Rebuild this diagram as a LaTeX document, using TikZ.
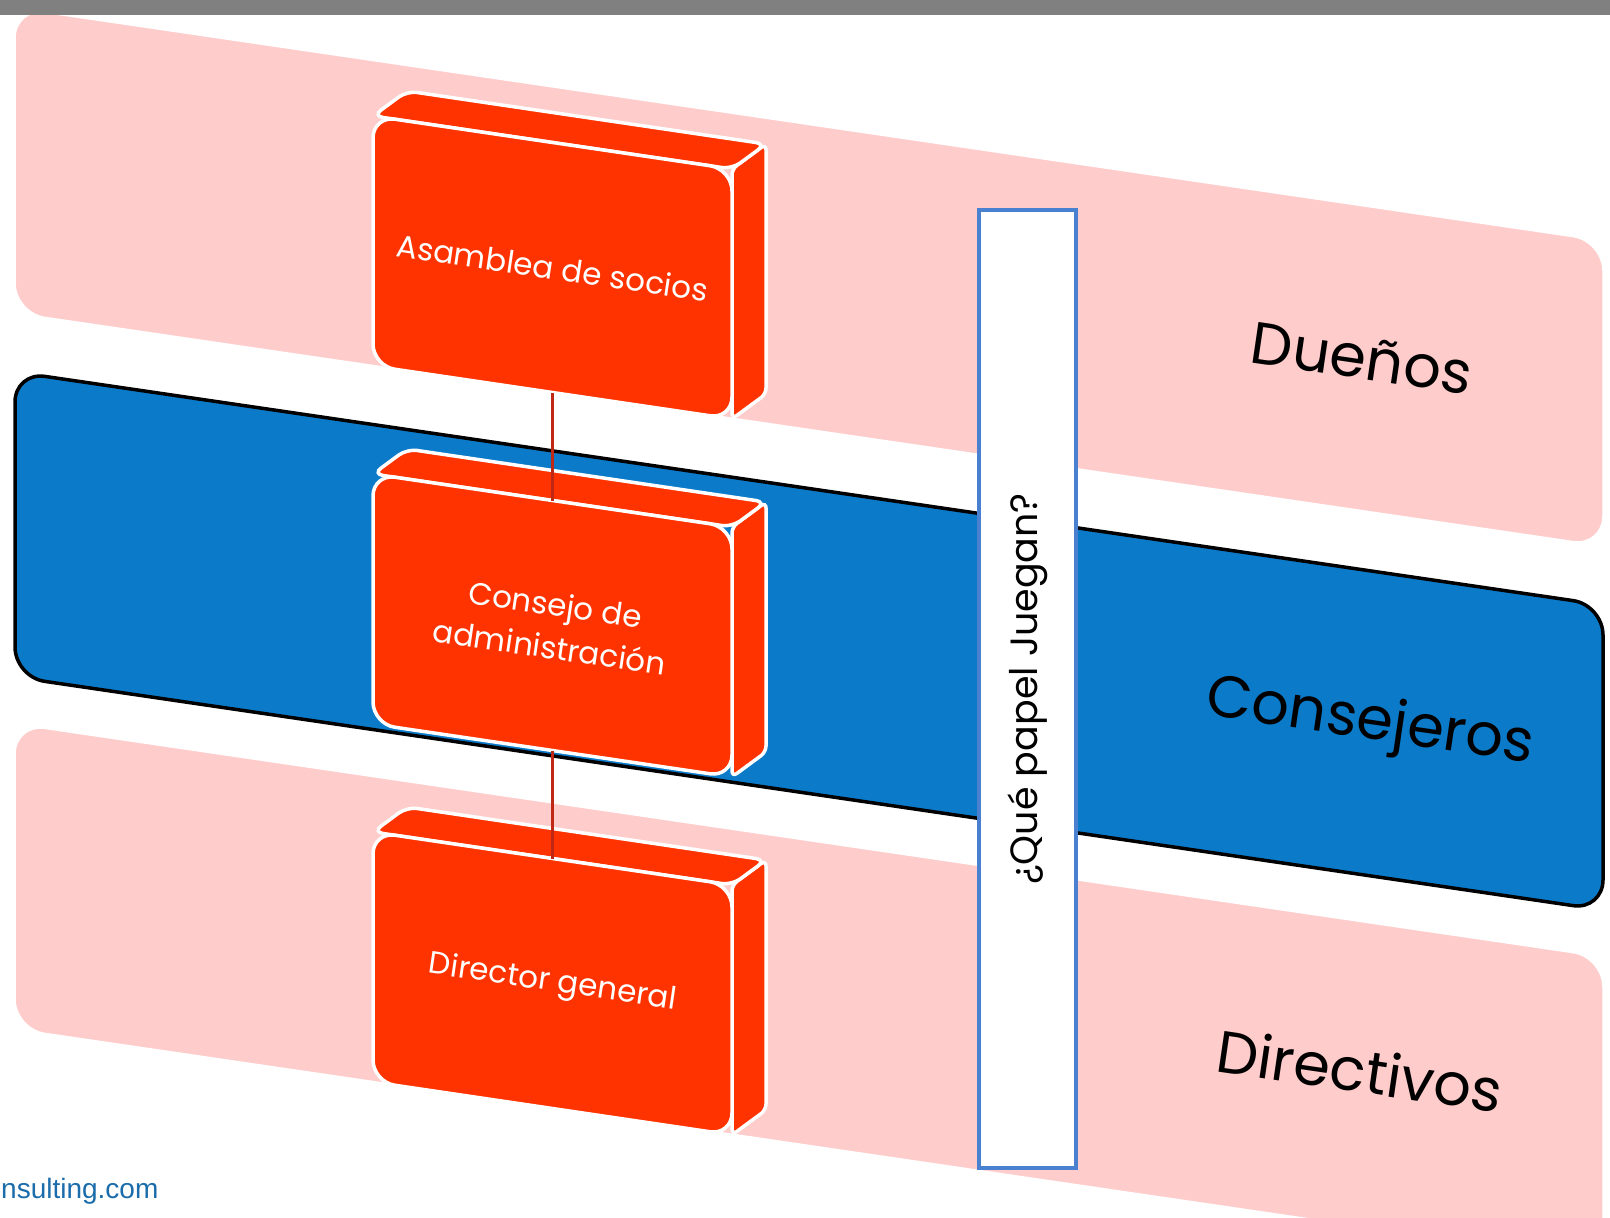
\documentclass[tikz,border=0pt]{standalone}
\usepackage{fontspec}
\setmainfont{Poppins}
\newfontfamily\webfont{Liberation Sans}
\usetikzlibrary{backgrounds}
\usetikzlibrary{calc}
\definecolor{bndpink}{RGB}{255,204,204}
\definecolor{bndblue}{RGB}{11,122,201}
\definecolor{bxred}{RGB}{255,51,0}
\definecolor{lnkred}{RGB}{190,40,20}
\definecolor{qbblue}{RGB}{74,128,208}
\definecolor{webblue}{RGB}{26,108,170}
\definecolor{topgray}{RGB}{128,128,128}
\newcommand{\bndl}{15}
\newcommand{\bndr}{1603}
\newcommand{\bndrise}{233}
\newcommand{\bndh}{305}
\newcommand{\bndya}{8}
\newcommand{\bndyb}{372}
\newcommand{\bndyc}{724}
\newcommand{\bndtilt}{-8.35}
\newcommand{\bxl}{373}
\newcommand{\bxr}{732}
\newcommand{\bxrise}{53}
\newcommand{\bxh}{250}
\newcommand{\bxdx}{34}
\newcommand{\bxdy}{25}
\newcommand{\bxya}{116}
\newcommand{\bxyb}{474}
\newcommand{\bxyc}{832}
\newcommand{\bandpath}[1]{(\bndl,#1) -- (\bndr,#1+\bndrise)
  -- (\bndr,#1+\bndrise+\bndh) -- (\bndl,#1+\bndh) -- cycle}
\newcommand{\redbox}[2]{
  \filldraw[boxface, rounded corners=6pt]
    (\bxr,#2+\bxrise) -- (\bxr+\bxdx,#2+\bxrise-\bxdy)
    -- (\bxr+\bxdx,#2+\bxrise+\bxh-\bxdy) -- (\bxr,#2+\bxrise+\bxh) -- cycle;
  \filldraw[boxface, rounded corners=10pt]
    (\bxl,#2) -- (\bxl+\bxdx,#2-\bxdy)
    -- (\bxr+\bxdx,#2+\bxrise-\bxdy) -- (\bxr,#2+\bxrise) -- cycle;
  \filldraw[boxface, rounded corners=22pt]
    (\bxl,#2) -- (\bxr,#2+\bxrise) -- (\bxr,#2+\bxrise+\bxh)
    -- (\bxl,#2+\bxh) -- cycle;
  \coordinate (#1top) at ({(\bxl+\bxr)/2}, {#2+\bxrise/2});
  \coordinate (#1bot) at ({(\bxl+\bxr)/2}, {#2+\bxh+\bxrise/2});}

\begin{document}
\begin{tikzpicture}[x=1pt,y=-1pt,
    pinkband/.style={fill=bndpink, draw=white, line width=1.5pt,
      rounded corners=30pt},
    blueband/.style={fill=bndblue, draw=black, line width=3.5pt,
      rounded corners=30pt},
    boxface/.style={fill=bxred, draw=white, line width=3.5pt},
    boxtext/.style={text=white, align=center, rotate=\bndtilt,
      font=\fontsize{31}{43}\selectfont},
    bandlabel/.style={rotate=\bndtilt, font=\fontsize{59}{68}\selectfont},
    link/.style={draw=lnkred, line width=3.5pt}]

    \useasboundingbox (0,0) rectangle (1610,1218);
    \fill[topgray] (0,0) rectangle (1610,15);

    \begin{scope}[on background layer]
      \fill[white] (0,15) rectangle (1610,1218);
      \path[pinkband] \bandpath{\bndya};
      \path[blueband] \bandpath{\bndyb};
      \path[pinkband] \bandpath{\bndyc};
    \end{scope}

    \redbox{asm}{\bxya}
    \redbox{cons}{\bxyb}
    \redbox{dir}{\bxyc}

    \node (asm) [boxtext] at ({(\bxl+\bxr)/2}, {\bxya+(\bxh+\bxrise)/2})
      {Asamblea de socios};
    \node (cons) [boxtext] at ({(\bxl+\bxr)/2}, {\bxyb+(\bxh+\bxrise)/2})
      {Consejo de\\administración};
    \node (dir) [boxtext] at ({(\bxl+\bxr)/2}, {\bxyc+(\bxh+\bxrise)/2})
      {Director general};

    \draw[link] (asmbot) -- (constop);
    \draw[link] (consbot) -- (dirtop);

    \node (own) [bandlabel] at (1362, \bndya+350) {Dueños};
    \node (board) [bandlabel] at (1370, \bndyb+352) {Consejeros};
    \node (mgmt) [bandlabel] at (1360, \bndyc+346) {Directivos};

    \node (ques) [rotate=90, draw=qbblue, line width=3.5pt, fill=white,
      minimum width=958pt, minimum height=97pt, inner sep=0pt,
      font=\fontsize{38}{45}\selectfont] at (1027.5, 689)
      {¿Qué papel Juegan?};

    \node (web) [anchor=base west, inner sep=0pt, text=webblue,
      font=\webfont\fontsize{28}{34}\selectfont] at (1, 1198)
      {nsulting.com};
  \end{tikzpicture}
\end{document}
